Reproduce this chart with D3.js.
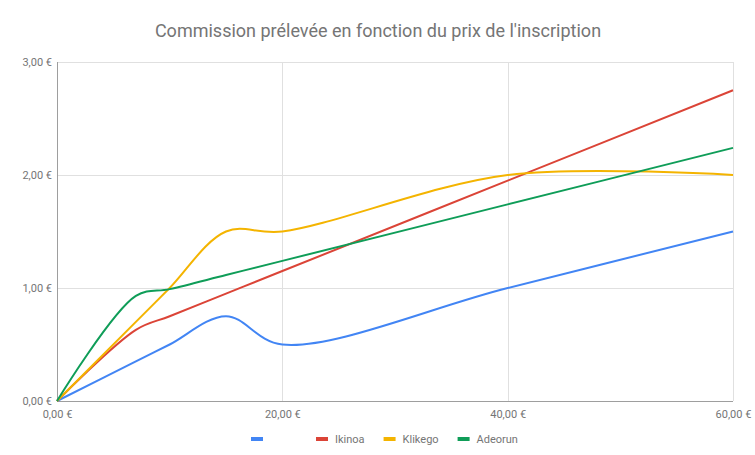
<!DOCTYPE html>
<html>
<head>
<meta charset="utf-8">
<script src="https://cdn.jsdelivr.net/npm/d3@7"></script>
<style>
  body { margin: 0; background: #fff; }
  text { font-family: Roboto, "Noto Sans", sans-serif; }
</style>
</head>
<body>
<div id="chart"></div>
<script>
// prix de l'inscription (x) and commission for each platform
var prices = [0, 7, 10, 15, 20, 40, 60];
var blueValues = [0, 0.35, 0.5, 0.75, 0.5, 1.0, 1.5];
var ikinoaValues = [0, 0.63, 0.75, 0.95, 1.15, 1.95, 2.75];
var klikegoValues = [0, 0.7, 1.0, 1.5, 1.5, 2.0, 2.0];
var adeorunValues = [0, 0.93, 0.99, 1.115, 1.24, 1.74, 2.24];

var seriesNames = ["", "Ikinoa", "Klikego", "Adeorun"];
var seriesColors = ["#4285f4", "#db4437", "#f4b400", "#0f9d58"];
var xTicks = [0, 20, 40, 60];
var yTicks = [0, 1, 2, 3];

var width = 755;
var height = 455;

var plotLeft = 57;
var plotRight = 733;
var plotTop = 62;
var plotBottom = 401;

var svg = d3.select("#chart")
  .append("svg")
  .attr("width", width)
  .attr("height", height);

// title
svg.append("text")
  .attr("x", 378)
  .attr("y", 37)
  .attr("text-anchor", "middle")
  .attr("font-size", 18)
  .attr("fill", "#757575")
  .text("Commission prélevée en fonction du prix de l'inscription");

var xScale = d3.scaleLinear().domain([0, 60]).range([plotLeft, plotRight]);
var yScale = d3.scaleLinear().domain([0, 3]).range([plotBottom, plotTop]);

// euro format with comma decimals
var fmt = function(v) {
  return d3.format(".2f")(v).replace(".", ",") + " €";
};

// gridlines
svg.append("g")
  .selectAll("line")
  .data(yTicks.slice(1))
  .enter()
  .append("line")
  .attr("x1", plotLeft)
  .attr("x2", plotRight)
  .attr("y1", function(d) { return Math.round(yScale(d)) + 0.5; })
  .attr("y2", function(d) { return Math.round(yScale(d)) + 0.5; })
  .attr("stroke", "#e0e0e0");

svg.append("g")
  .selectAll("line")
  .data(xTicks.slice(1))
  .enter()
  .append("line")
  .attr("x1", function(d) { return Math.round(xScale(d)) + 0.5; })
  .attr("x2", function(d) { return Math.round(xScale(d)) + 0.5; })
  .attr("y1", plotTop)
  .attr("y2", plotBottom)
  .attr("stroke", "#e0e0e0");

// axes (tick labels only, no tick marks)
var xAxis = d3.axisBottom(xScale).tickValues(xTicks).tickFormat(fmt).tickSize(0).tickPadding(9);
var yAxis = d3.axisLeft(yScale).tickValues(yTicks).tickFormat(fmt).tickSize(0).tickPadding(5);

var gx = svg.append("g")
  .attr("transform", "translate(0," + plotBottom + ")")
  .call(xAxis);
var gy = svg.append("g")
  .attr("transform", "translate(" + plotLeft + ",0)")
  .call(yAxis);

[gx, gy].forEach(function(g) {
  g.select(".domain").remove();
  g.selectAll("text")
    .attr("font-family", "Roboto, sans-serif")
    .attr("font-size", 11)
    .attr("fill", "#757575");
});

// baselines
svg.append("line")
  .attr("x1", plotLeft).attr("x2", plotRight)
  .attr("y1", plotBottom + 0.5).attr("y2", plotBottom + 0.5)
  .attr("stroke", "#9e9e9e");
svg.append("line")
  .attr("x1", plotLeft + 0.5).attr("x2", plotLeft + 0.5)
  .attr("y1", plotTop).attr("y2", plotBottom)
  .attr("stroke", "#9e9e9e");

// lines
var allSeries = [blueValues, ikinoaValues, klikegoValues, adeorunValues];

var line = d3.line()
  .x(function(d, i) { return xScale(prices[i]); })
  .y(function(d) { return yScale(d); })
  .curve(d3.curveCatmullRom.alpha(0.5));

svg.append("g")
  .selectAll("path")
  .data(allSeries)
  .enter()
  .append("path")
  .attr("d", line)
  .attr("fill", "none")
  .attr("stroke", function(d, i) { return seriesColors[i]; })
  .attr("stroke-width", 2);

// legend
var legend = svg.append("g").attr("transform", "translate(251,439)");
var lx = 0;
seriesNames.forEach(function(name, i) {
  var item = legend.append("g").attr("transform", "translate(" + lx + ",0)");
  item.append("rect")
    .attr("x", 0).attr("y", -2)
    .attr("width", 12).attr("height", 4)
    .attr("fill", seriesColors[i]);
  var t = item.append("text")
    .attr("x", 19)
    .attr("y", 4)
    .attr("font-size", 11)
    .attr("fill", "#757575")
    .text(name);
  var w = name === "" ? 27 : t.node().getComputedTextLength();
  lx += 19 + w + 19;
});
</script>
</body>
</html>
